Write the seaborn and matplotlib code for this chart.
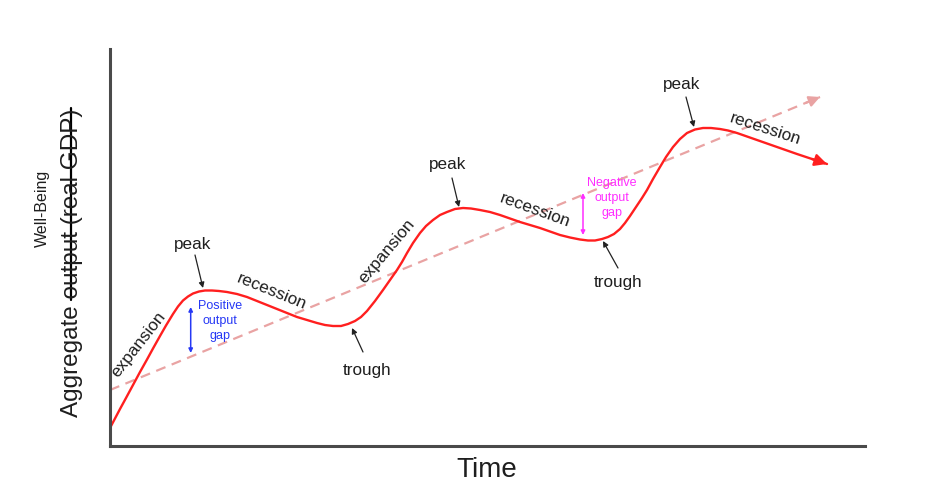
import numpy as np
import pandas as pd
import matplotlib
matplotlib.use("Agg")
import matplotlib.pyplot as plt
from matplotlib.lines import Line2D
import seaborn as sns

# ---------------- data ----------------
time = [0, 5, 10, 16, 23, 30, 37, 43, 50, 56, 63, 68, 73, 78, 83, 89, 95, 102, 109, 117,
        127, 137, 147, 157, 167, 177, 187, 197, 207, 215, 223, 231, 238, 245, 251, 257,
        265, 273, 280, 287, 292, 297, 303, 310, 316, 323, 330, 337, 345, 353, 361, 370,
        380, 390, 400, 410, 420, 430, 440, 450, 460, 470, 478, 485, 492, 498, 504, 510,
        515, 520, 526, 532, 537, 543, 550, 556, 563, 570, 577, 585, 593, 601, 610, 618,
        627, 637, 647, 657, 667, 677, 687, 702, 717]
output = [18, 27.5, 37, 48, 61, 74, 86.5, 97.5, 110, 120.5, 132, 139.5, 145.5, 149.5, 152.5,
          154.5, 155.5, 155.5, 155, 154, 152, 149, 145, 141, 137, 133, 129, 126, 123, 121,
          120, 120, 122, 125, 129, 135, 145, 156, 166, 176, 184, 193, 203, 213, 220, 226,
          231, 234, 237, 238, 237.5, 236, 234, 231, 227.5, 224, 221, 218, 214.5, 211,
          208.5, 206.5, 205.5, 205.5, 207, 209, 212, 217, 223, 230, 239, 248, 256, 267,
          279, 289, 299, 307, 313, 316.5, 318, 318, 317, 315.5, 313, 309.5, 306, 302.5,
          299, 295.5, 292, 287, 282]
trend_time = [0, 710]
trend_output = [56, 349]

phase_labels = ["expansion", "peak", "recession", "trough", "expansion", "peak",
                "recession", "trough", "peak", "recession"]

# ---------------- style ----------------
sns.set_theme(style="white")
plt.rcParams["font.family"] = ["Liberation Sans", "DejaVu Sans"]

RED = "#ff1f1f"
TREND = "#e9a3a3"
BLUE = "#2638f5"
MAGENTA = "#ff2eff"
TXT = "#1e1e1e"

W, H = 938, 500
fig = plt.figure(figsize=(W / 100, H / 100), dpi=100)
ax = fig.add_axes([110 / W, (500 - 446) / H, (865 - 110) / W, (446 - 49) / H])
ax.set_xlim(0, 755)
ax.set_ylim(0, 397)

curve = pd.DataFrame({"time": time, "output": output})
trend = pd.DataFrame({"time": trend_time, "output": trend_output})

sns.lineplot(data=trend, x="time", y="output", ax=ax, color=TREND, lw=1.6,
             linestyle=(0, (4.5, 3)), estimator=None, sort=False)
sns.lineplot(data=curve, x="time", y="output", ax=ax, color=RED, lw=1.7,
             estimator=None, sort=False, solid_joinstyle="round",
             solid_capstyle="round")

# arrow heads at line ends
slope = (trend_output[-1] - trend_output[0]) / (trend_time[-1] - trend_time[0])
ax.annotate("", xy=(trend_time[-1], trend_output[-1]),
            xytext=(trend_time[-1] - 14, trend_output[-1] - 14 * slope),
            arrowprops=dict(arrowstyle="-|>", color=TREND, lw=1.6, mutation_scale=16,
                            shrinkA=0, shrinkB=0))
ax.annotate("", xy=(time[-1], output[-1]), xytext=(time[-2], output[-2]),
            arrowprops=dict(arrowstyle="-|>", color=RED, lw=1.7, mutation_scale=18,
                            shrinkA=0, shrinkB=0))

# output gap arrows
ax.annotate("", xy=(80.7, 139), xytext=(80.7, 93),
            arrowprops=dict(arrowstyle="<|-|>", color=BLUE, lw=1.1, mutation_scale=6,
                            shrinkA=0, shrinkB=0))
ax.annotate("", xy=(473, 253), xytext=(473, 211),
            arrowprops=dict(arrowstyle="<|-|>", color=MAGENTA, lw=1.1, mutation_scale=6,
                            shrinkA=0, shrinkB=0))
ax.text(110, 125, "Positive\noutput\ngap", color=BLUE, fontsize=9, ha="center",
        va="center", linespacing=1.3)
ax.text(502, 248, "Negative\noutput\ngap", color=MAGENTA, fontsize=9, ha="center",
        va="center", linespacing=1.3)

# phase labels
fs = 12.3
rot_specs = [
    (phase_labels[0], 28, 101, 52),
    (phase_labels[2], 162, 154, -22),
    (phase_labels[4], 277, 195, 50),
    (phase_labels[6], 425, 236, -20),
    (phase_labels[9], 655, 317, -18),
]
for lab, x, y, r in rot_specs:
    ax.text(x, y, lab, fontsize=fs, rotation=r, rotation_mode="anchor",
            ha="center", va="center", color=TXT)

arrow_specs = [
    (phase_labels[1], (83, 202), (85, 191), (93, 158)),
    (phase_labels[3], (257, 76), (253, 94), (242, 118)),
    (phase_labels[5], (338, 281), (342, 268), (349, 239)),
    (phase_labels[7], (508, 164), (508, 178), (493, 205)),
    (phase_labels[8], (572, 361), (576, 349), (584, 319)),
]
for lab, (tx, ty), start, end in arrow_specs:
    ax.text(tx, ty, lab, fontsize=fs, ha="center", va="center", color=TXT)
    ax.annotate("", xy=end, xytext=start,
                arrowprops=dict(arrowstyle="-|>", color="#222222", lw=0.9,
                                mutation_scale=8, shrinkA=0, shrinkB=0))

# axes cosmetics
ax.set_xticks([])
ax.set_yticks([])
ax.set_xlabel("")
ax.set_ylabel("")
for s in ["top", "right"]:
    ax.spines[s].set_visible(False)
for s in ["left", "bottom"]:
    ax.spines[s].set_color("#4a4a4a")
    ax.spines[s].set_linewidth(2.2)

# axis titles
fig.text(487 / W, 1 - 470 / H, "Time", fontsize=20, ha="center", va="center", color=TXT)
fig.text(42 / W, 1 - 208 / H, "Well-Being", fontsize=11.5, rotation=90,
         ha="center", va="center", color=TXT)
ylab = "Aggregate output (real GDP)"
prefix = "Aggregate "
yt = fig.text(72 / W, 1 - 263 / H, ylab, fontsize=17.5, rotation=90,
              ha="center", va="center", color=TXT)

# strike-through of "output (real GDP)"
fig.canvas.draw()
renderer = fig.canvas.get_renderer()
bb = yt.get_window_extent(renderer)
pw, _, _ = renderer.get_text_width_height_descent(prefix, yt.get_fontproperties(), ismath=False)
_, _, desc = renderer.get_text_width_height_descent(ylab, yt.get_fontproperties(), ismath=False)
em = yt.get_fontproperties().get_size_in_points() * fig.dpi / 72
x_strike = bb.x1 - desc - 0.27 * em
y0 = bb.y0 + pw - 1
y1 = bb.y1 + 1
fig.add_artist(Line2D([x_strike / W, x_strike / W], [y0 / H, y1 / H],
                      transform=fig.transFigure, color="black", lw=1.6))

fig.savefig("out.png", dpi=100)
